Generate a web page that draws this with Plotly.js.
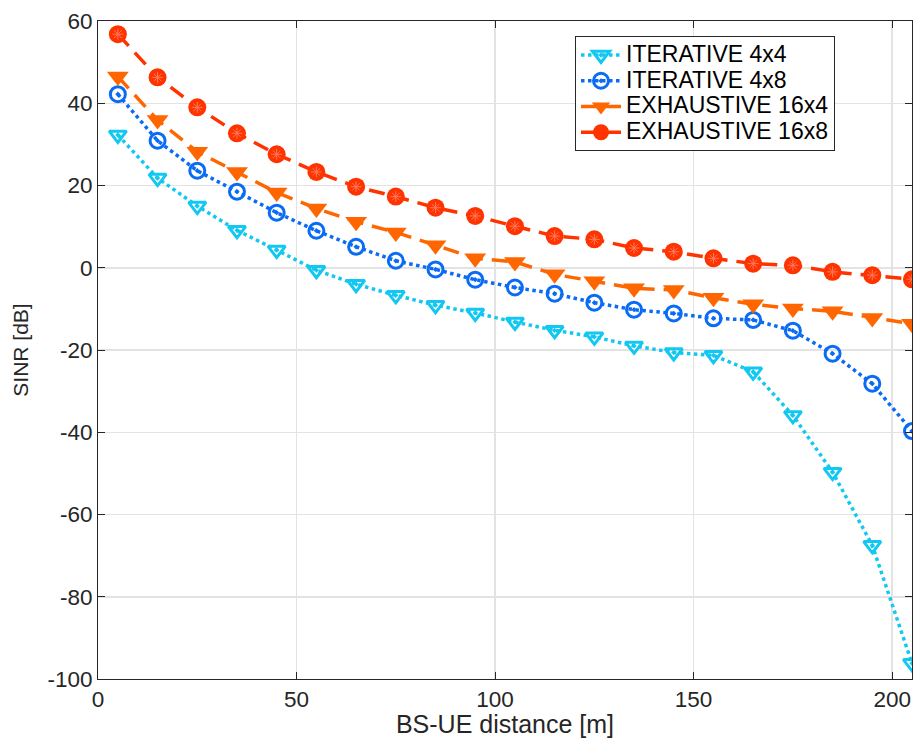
<!DOCTYPE html>
<html><head><meta charset="utf-8">
<script src="https://cdn.plot.ly/plotly-3.0.1.min.js"></script>
<style>html,body{margin:0;padding:0;background:#fff;}#chart{width:922px;height:738px;}</style>
</head><body><div id="chart"></div>
<script>
const distance = [5,15,25,35,45,55,65,75,85,95,105,115,125,135,145,155,165,175,185,195,205];
const iterative4x4 = [32.3,21.8,15.0,9.1,4.3,-0.6,-4.0,-6.7,-9.1,-11.0,-13.2,-15.2,-16.8,-19.0,-20.6,-21.3,-25.3,-35.9,-49.7,-67.5,-96.2];
const iterative4x8 = [42.2,30.9,23.6,18.5,13.4,9.0,5.1,1.7,-0.4,-2.9,-4.8,-6.3,-8.5,-10.2,-11.1,-12.3,-12.7,-15.3,-20.9,-28.2,-39.7];
const exhaustive16x4 = [46.5,35.9,28.2,23.3,18.3,14.4,11.2,8.6,5.5,2.3,1.4,-1.6,-3.3,-5.0,-5.4,-7.3,-8.9,-9.9,-10.6,-12.2,-13.6];
const exhaustive16x8 = [56.8,46.3,39.0,32.7,27.6,23.3,19.7,17.3,14.6,12.6,10.1,7.7,6.9,4.8,3.9,2.3,1.0,0.6,-1.0,-1.8,-2.8];
const seriesNames = ['ITERATIVE 4x4','ITERATIVE 4x8','EXHAUSTIVE 16x4','EXHAUSTIVE 16x8'];
const xTicks = [0,50,100,150,200];
const yTicks = [-100,-80,-60,-40,-20,0,20,40,60];
const yTickText = yTicks.map(v => String(v));

const legendName = n => '<span style="font-size:23px">' + n + '</span>';
const dashed = '16px,9px';

const traces = [
  {x: distance, y: iterative4x4, name: legendName(seriesNames[0]), mode:'lines+markers',
   line:{color:'#12C8F2', width:3.5, dash:'dot'},
   marker:{symbol:'triangle-down-open-dot', size:15, color:'#12C8F2', line:{width:3, color:'#12C8F2'}}},
  {x: distance, y: iterative4x8, name: legendName(seriesNames[1]), mode:'lines+markers',
   line:{color:'#0A6CF5', width:3.5, dash:'dot'},
   marker:{symbol:'circle-open-dot', size:15, color:'#0A6CF5', line:{width:3, color:'#0A6CF5'}}},
  {x: distance, y: exhaustive16x4, name: legendName(seriesNames[2]), mode:'lines+markers',
   line:{color:'#FF6600', width:3.5, dash:dashed},
   marker:{symbol:'triangle-down', size:19, color:'#FF6600', line:{width:0}}},
  {x: distance, y: exhaustive16x8, name: legendName(seriesNames[3]), mode:'lines+markers',
   line:{color:'#FF3300', width:3.5, dash:dashed},
   marker:{symbol:'circle', size:18, color:'#FF3300', line:{width:0}}},
  {x: distance, y: exhaustive16x8, name: seriesNames[3] + ' star', mode:'markers', showlegend:false,
   marker:{symbol:'asterisk-open', size:9, color:'#FF7A5C', line:{width:1, color:'#FF7A5C'}}}
];

const tickFont = {family:'Liberation Sans, Arial', size:22.5, color:'#262626'};
const axisCommon = {
  showline:true, mirror:'ticks', linecolor:'#262626', linewidth:1,
  ticks:'inside', ticklen:7, tickcolor:'#262626',
  showgrid:true, gridcolor:'#E3E3E3', gridwidth:1.5, zeroline:false,
  tickfont:tickFont
};

const layout = {
  width:922, height:738,
  margin:{l:98, r:10, t:21, b:59},
  paper_bgcolor:'#fff', plot_bgcolor:'#fff',
  font:{family:'Liberation Sans, Arial', color:'#262626'},
  xaxis: Object.assign({}, axisCommon, {range:[0,205], tickvals:xTicks, ticktext:xTicks.map(String),
    title:{text:'BS-UE distance [m]', font:{family:'Liberation Sans, Arial', size:25, color:'#262626'}, standoff:2}}),
  yaxis: Object.assign({}, axisCommon, {range:[-100,60], tickvals:yTicks, ticktext:yTickText,
    title:{text:'SINR [dB]', font:{family:'Liberation Sans, Arial', size:21, color:'#262626'}, standoff:13}}),
  showlegend:true,
  legend:{x:0.586, y:0.977, xanchor:'left', yanchor:'top', bgcolor:'#fff',
    bordercolor:'#262626', borderwidth:1, font:{family:'Liberation Sans, Arial', size:17.5, color:'#000'},
    tracegroupgap:0, itemwidth:40}
};

Plotly.newPlot('chart', traces, layout, {displayModeBar:false, staticPlot:true});
</script>
</body></html>
